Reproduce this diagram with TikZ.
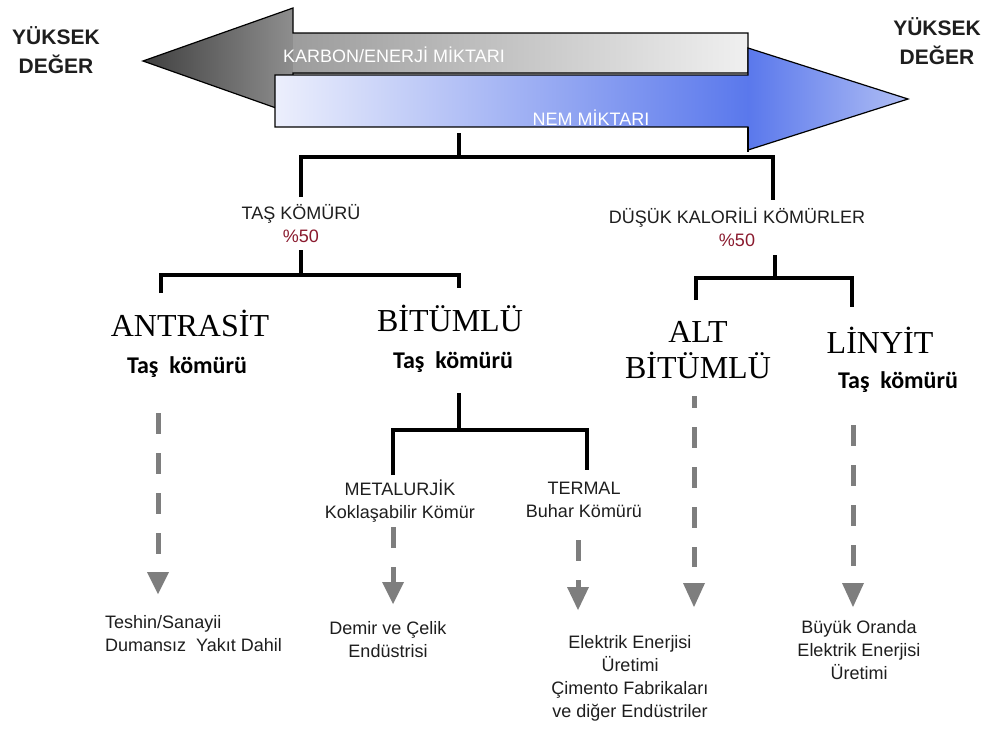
\documentclass[tikz,border=0pt]{standalone}
\usepackage{fontspec}
\setmainfont{Liberation Sans}
\newfontfamily\serfnt{Liberation Serif}
\newfontfamily\calfnt{Carlito}
\definecolor{g1}{HTML}{404040}
\definecolor{g2}{HTML}{8E8E8E}
\definecolor{g3}{HTML}{9C9C9C}
\definecolor{g4}{HTML}{F0F0F0}
\definecolor{b1}{HTML}{ECEFFC}
\definecolor{b2}{HTML}{5A78EC}
\definecolor{b4}{HTML}{B0BEF4}
\definecolor{agray}{HTML}{7E7E7E}
\definecolor{tdark}{HTML}{1E1E1E}
\definecolor{pred}{HTML}{8A1A2E}
\begin{document}
\begin{tikzpicture}[x=1pt,y=-1pt,
  tree/.style={line width=4.5pt,line join=miter,line cap=butt},
  gdash/.style={line width=5pt,draw=agray,dash pattern=on 21pt off 19pt},
  tri/.style={fill=agray},
  lbl/.style={font=\fontsize{18}{23}\selectfont,text=tdark,align=center,inner sep=0pt},
  big/.style={font=\serfnt\fontsize{32}{36}\selectfont,align=center,inner sep=0pt},
  tk/.style={font=\calfnt\bfseries\fontsize{24}{28}\selectfont,inner sep=0pt},
  hv/.style={font=\bfseries\fontsize{21}{29}\selectfont,text=tdark,align=center,inner sep=0pt},
  outl/.style={line width=1.2pt,line join=miter}]
\useasboundingbox (0,0) rectangle (990,728);
\fill[white] (0,0) rectangle (990,728);

% ---- gray arrow (left) ----
\shade[left color=g1,right color=g2] (293,8)--(143,61)--(293,114)--cycle;
\shade[left color=g3,right color=g4] (293,33) rectangle (748,73);
\draw[outl] (748,33)--(293,33)--(293,8)--(143,61)--(293,114)--(293,73)--(748,73)--cycle;

% ---- blue arrow (right) ----
\shade[left color=b1,right color=b2] (275,75) rectangle (748,127);
\fill[white] (275,127) rectangle (748,152);
\shade[left color=b2,right color=b4] (748,48)--(908,99)--(748,150)--cycle;
\draw[outl] (275,75)--(748,75)--(748,48)--(908,99)--(748,150)--(748,127)--(275,127)--cycle;
\draw[outl] (748,127)--(748,152);

\node[lbl,text=white,anchor=west] (karbon) at (283,55) {KARBON/ENERJİ MİKTARI};
\node[lbl,text=white] (nem) at (591,118) {NEM MİKTARI};

\node[hv] (yl) at (56,50) {YÜKSEK\\DEĞER};
\node[hv] (yr) at (937,41) {YÜKSEK\\DEĞER};

% ---- labels ----
\node[lbl] (tas) at (301,224) {TAŞ KÖMÜRÜ\\\textcolor{pred}{\%50}};
\node[lbl] (dusuk) at (737,227) {DÜŞÜK KALORİLİ KÖMÜRLER\\\textcolor{pred}{\%50}};

\node[big] (antrasit) at (190,323) {ANTRASİT};
\node[tk] (tk1) at (187,367) {Taş\ \ kömürü};
\node[big] (bitumlu) at (450,318) {BİTÜMLÜ};
\node[tk] (tk2) at (453,362) {Taş\ \ kömürü};
\node[big] (altb) at (698,350) {ALT\\BİTÜMLÜ};
\node[big] (linyit) at (880,340) {LİNYİT};
\node[tk] (tk3) at (898,382) {Taş\ \ kömürü};

\node[lbl] (metal) at (400,501) {METALURJİK\\Koklaşabilir Kömür};
\node[lbl] (termal) at (584,500) {TERMAL\\Buhar Kömürü};

\node[lbl,align=left,anchor=west] (teshin) at (105,634) {Teshin/Sanayii\\Dumansız\ \ Yakıt Dahil};
\node[lbl] (demir) at (388,640) {Demir ve Çelik\\Endüstrisi};
\node[lbl] (elek) at (630,678) {Elektrik Enerjisi\\Üretimi\\Çimento Fabrikaları\\ve diğer Endüstriler};
\node[lbl] (buyuk) at (859,650) {Büyük Oranda\\Elektrik Enerjisi\\Üretimi};

% ---- tree connectors ----
\coordinate (r0) at (459,133);
\coordinate (r1) at (459,157);
\coordinate (ta) at (301,197);
\coordinate (du) at (773,200);
\draw[tree] (r0)--(r1);
\draw[tree] (ta)--(301,157)--(773,157)--(du);

\coordinate (tb) at (301,250);
\coordinate (tj) at (301,275);
\coordinate (an) at (161,293);
\coordinate (bi) at (459,288);
\draw[tree] (tb)--(tj);
\draw[tree] (an)--(161,275)--(459,275)--(bi);

\coordinate (db) at (775,255);
\coordinate (dj) at (775,278);
\coordinate (al) at (696,300);
\coordinate (li) at (852,307);
\draw[tree] (db)--(dj);
\draw[tree] (al)--(696,278)--(852,278)--(li);

\coordinate (bb) at (459,393);
\coordinate (bj) at (459,430);
\coordinate (me) at (393,475);
\coordinate (te) at (587,470);
\draw[tree] (bb)--(bj);
\draw[tree] (me)--(393,430)--(587,430)--(te);

% ---- dashed gray arrows ----
\coordinate (a0) at (158,413); \coordinate (a1) at (158,556); \coordinate (a2) at (158,572);
\draw[gdash] (a0)--(a1);
\fill[tri] (a2) ++(-11,0) -- ++(22,0) -- ++(-11,22) -- cycle;

\coordinate (m0) at (393,527); \coordinate (m1) at (393,590); \coordinate (m2) at (393,582);
\draw[gdash] (m0)--(m1);
\fill[tri] (m2) ++(-11,0) -- ++(22,0) -- ++(-11,22) -- cycle;

\coordinate (t0) at (578,540); \coordinate (t1) at (578,595); \coordinate (t2) at (578,587);
\draw[gdash] (t0)--(t1);
\fill[tri] (t2) ++(-11,0) -- ++(22,0) -- ++(-11,23) -- cycle;

\coordinate (b0) at (694,396); \coordinate (b1) at (694,567); \coordinate (b2) at (694,583);
\draw[gdash,dash phase=9pt] (b0)--(b1);
\fill[tri] (b2) ++(-11,0) -- ++(22,0) -- ++(-11,24) -- cycle;

\coordinate (l0) at (853,425); \coordinate (l1) at (853,566); \coordinate (l2) at (853,583);
\draw[gdash] (l0)--(l1);
\fill[tri] (l2) ++(-11,0) -- ++(22,0) -- ++(-11,24) -- cycle;
\end{tikzpicture}
\end{document}
